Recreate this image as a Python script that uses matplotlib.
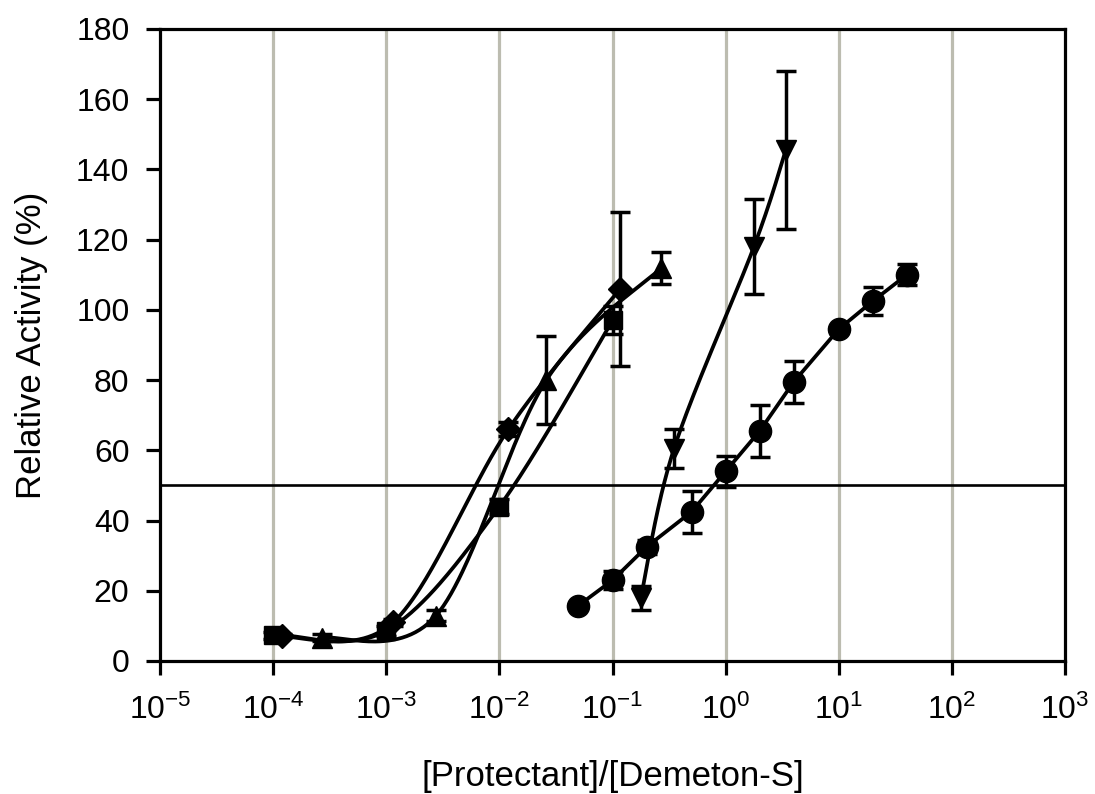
import numpy as np
import matplotlib
matplotlib.use("Agg")
import matplotlib.pyplot as plt

plt.rcParams["font.family"] = ["Liberation Sans", "DejaVu Sans"]
plt.rcParams["mathtext.fontset"] = "custom"
plt.rcParams["mathtext.rm"] = "Liberation Sans"
plt.rcParams["mathtext.it"] = "Liberation Sans:italic"
plt.rcParams["mathtext.bf"] = "Liberation Sans:bold"

# ---- data: ratio [Protectant]/[Demeton-S] vs relative activity (%) ----
sq_x = [1.0e-4, 1.0e-3, 1.0e-2, 1.0e-1]
sq_y = [7.3, 8.6, 44.0, 97.0]
sq_err = [1.0, 1.5, 2.0, 4.0]

dia_x = [1.2e-4, 1.15e-3, 1.2e-2, 1.17e-1]
dia_y = [7.2, 11.0, 66.0, 106.0]
dia_err = [0.5, 1.0, 2.0, 22.0]

tri_x = [2.7e-4, 2.75e-3, 2.6e-2, 2.7e-1]
tri_y = [6.6, 12.9, 80.0, 112.0]
tri_err = [1.0, 1.5, 12.5, 4.5]

dtri_x = [0.178, 0.35, 1.78, 3.4]
dtri_y = [18.0, 60.5, 118.0, 145.5]
dtri_err = [3.5, 5.5, 13.5, 22.5]

circ_x = [0.05, 0.1, 0.2, 0.5, 1.0, 2.0, 4.0, 10.0, 20.0, 40.0]
circ_y = [15.8, 23.0, 32.5, 42.5, 54.0, 65.5, 79.5, 94.5, 102.5, 110.0]
circ_err = [0.5, 2.5, 2.0, 6.0, 4.5, 7.5, 6.0, 1.0, 4.0, 3.0]

x_ticks = [1e-5, 1e-4, 1e-3, 1e-2, 1e-1, 1e0, 1e1, 1e2, 1e3]
x_tick_labels = [r"$10^{-5}$", r"$10^{-4}$", r"$10^{-3}$", r"$10^{-2}$",
                 r"$10^{-1}$", r"$10^{0}$", r"$10^{1}$", r"$10^{2}$",
                 r"$10^{3}$"]
y_ticks = [0, 20, 40, 60, 80, 100, 120, 140, 160, 180]
half_activity = 50

W, H = 1095, 794
fig = plt.figure(figsize=(W / 100, H / 100), dpi=100)
ax = fig.add_axes([160 / W, 1 - 661 / H, (1065 - 160) / W, (661 - 29) / H])

ax.set_xscale("log")
ax.set_xlim(1e-5, 1e3)
ax.set_ylim(0, 180)


def smooth_curve(xs, ys, samples=60):
    """Cubic Bezier through the points in (log10 x, y) space, with
    Catmull-Rom style control points (end points duplicated)."""
    p = np.column_stack([np.log10(xs), ys])
    n = len(p)
    t = np.linspace(0, 1, samples)[:, None]
    pts = []
    for i in range(n - 1):
        p_prev = p[i - 1] if i > 0 else p[i]
        p_next = p[i + 2] if i + 2 < n else p[i + 1]
        a, d = p[i], p[i + 1]
        b = a + (d - p_prev) / 6.0
        c = d - (p_next - a) / 6.0
        seg = ((1 - t) ** 3) * a + 3 * ((1 - t) ** 2) * t * b \
            + 3 * (1 - t) * t ** 2 * c + t ** 3 * d
        pts.append(seg if i == 0 else seg[1:])
    pts = np.vstack(pts)
    return 10 ** pts[:, 0], pts[:, 1]


lw = 2.7
err_kw = dict(fmt="none", ecolor="black", elinewidth=2.5, capsize=7.5,
              capthick=2.5, zorder=3)

# vertical grid at each decade
for xt in x_ticks[1:-1]:
    ax.axvline(xt, color="#bcbcb0", lw=2.3, zorder=0)

ax.axhline(half_activity, color="black", lw=1.9, zorder=1)

series = [
    (sq_x, sq_y, sq_err, "s", 13.5, True),
    (dia_x, dia_y, dia_err, "D", 12.5, True),
    (tri_x, tri_y, tri_err, "^", 15, True),
    (dtri_x, dtri_y, dtri_err, "v", 15, True),
    (circ_x, circ_y, circ_err, "o", 16, False),
]

for xs, ys, es, mk, ms, smooth in series:
    if smooth:
        lx, ly = smooth_curve(xs, ys)
    else:
        lx, ly = xs, ys
    ax.plot(lx, ly, color="black", lw=lw, zorder=2)
    ax.errorbar(xs, ys, yerr=es, **err_kw)
    ax.plot(xs, ys, linestyle="none", marker=mk, markersize=ms,
            color="black", zorder=4)

ax.set_xticks(x_ticks)
ax.set_xticklabels(x_tick_labels)
ax.xaxis.set_minor_locator(matplotlib.ticker.NullLocator())
ax.set_yticks(y_ticks)

for s in ax.spines.values():
    s.set_linewidth(2.3)
    s.set_color("black")

ax.tick_params(axis="both", which="major", direction="out", length=10,
               width=2.3, labelsize=23, colors="black")
ax.tick_params(axis="y", pad=12)
ax.tick_params(axis="x", pad=14)

ax.set_xlabel("[Protectant]/[Demeton-S]", fontsize=25)
ax.xaxis.set_label_coords(0.5, -0.182)
ax.xaxis.label.set_verticalalignment("center")
ax.set_ylabel("Relative Activity (%)", fontsize=25)
ax.yaxis.set_label_coords(-0.142, 0.5)
ax.yaxis.label.set_verticalalignment("center")

fig.savefig("out.png", dpi=100)
